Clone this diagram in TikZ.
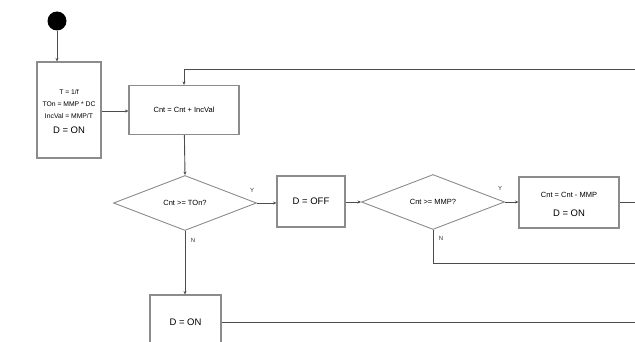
\documentclass[tikz,border=0pt]{standalone}
\usepackage{fontspec}
\setmainfont{Liberation Sans}
\usetikzlibrary{shapes.geometric,arrows.meta}
\begin{document}
\begin{tikzpicture}[x=1pt,y=-1pt,
  box/.style={draw=black!45, line width=1.1pt, rectangle, inner sep=0pt, align=center},
  dia/.style={draw=black!45, line width=0.9pt, diamond, inner sep=0pt, minimum width=143pt, minimum height=55pt, font=\fontsize{7.5}{8}\selectfont},
  conn/.style={draw=black!70, line width=0.9pt},
  arr/.style={conn, -{Stealth[length=3.5pt,width=3pt]}},
  lbl/.style={font=\fontsize{6}{7}\selectfont, text=black!80, inner sep=0pt},
  small/.style={font=\fontsize{7.5}{8}\selectfont},
  tiny/.style={font=\fontsize{6.8}{7}\selectfont},
  big/.style={font=\fontsize{9.5}{10}\selectfont}]
\useasboundingbox (0,0) rectangle (635,342);
\fill[white] (0,0) rectangle (635,342);

\node[circle, fill=black, minimum size=19pt, inner sep=0pt] (start) at (57,21) {};
\node[box, minimum width=64pt, minimum height=96pt] (init) at (69,110) {};
\node[tiny] (t1) at (69,92) {T = 1/f};
\node[tiny] (t2) at (69,104) {TOn = MMP * DC};
\node[tiny] (t3) at (69,116) {IncVal = MMP/T};
\node[big] (t4) at (69,130) {D = ON};

\node[box, minimum width=110pt, minimum height=49pt, small] (inc) at (184,110) {Cnt = Cnt + IncVal};
\node[dia] (d1) at (185,203) {Cnt >= TOn?};
\node[box, minimum width=68pt, minimum height=51pt, big] (off) at (311,201.5) {D = OFF};
\node[dia] (d2) at (433,202) {Cnt >= MMP?};
\node[box, minimum width=100pt, minimum height=51pt] (sub) at (569,202.5) {};
\node[small] (s1) at (569,195) {Cnt = Cnt - MMP};
\node[big] (s2) at (569,213) {D = ON};
\node[box, minimum width=71pt, minimum height=54pt, big] (on) at (185.5,322) {D = ON};

\coordinate (topR) at (640,69);
\coordinate (subR) at (640,202);
\coordinate (nR) at (640,263);
\coordinate (onR) at (640,322);

\draw[arr] (start) -- (start |- init.north);
\draw[arr] (init.east |- 0,111) -- (inc.west |- 0,111);
\draw[arr] (inc) -- (d1.north);
\draw[arr] (d1.east) -- (off.west |- d1.east);
\draw[arr] (off.east |- d2.west) -- (d2.west);
\draw[arr] (d2.east) -- (sub.west |- d2.east);
\draw[arr] (d1.south) -- (on.north -| d1.south);
\draw[conn] (sub.east |- subR) -- (subR);
\draw[conn] (d2.south) |- (nR);
\draw[conn] (on.east |- onR) -- (onR);
\draw[arr] (topR) -| (inc.north);

\node[lbl] (y1) at (252,190) {Y};
\node[lbl] (n1) at (193,240) {N};
\node[lbl] (y2) at (500,188) {Y};
\node[lbl] (n2) at (441,238) {N};
\end{tikzpicture}
\end{document}
